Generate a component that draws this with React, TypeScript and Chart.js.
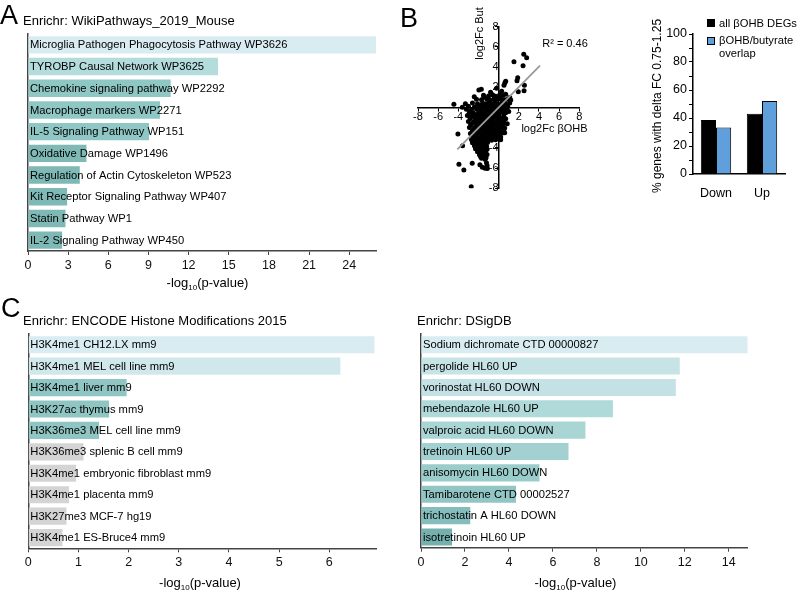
import React, { useEffect, useRef } from "react";
import { Chart, registerables } from "chart.js";

Chart.register(...registerables);

const FONT = "'Liberation Sans', Arial, Helvetica, sans-serif";
Chart.defaults.font.family = FONT;
Chart.defaults.color = "#000";

// ---------- Panel A: Enrichr WikiPathways_2019_Mouse ----------
const wikiLabels = [
  "Microglia Pathogen Phagocytosis Pathway WP3626",
  "TYROBP Causal Network WP3625",
  "Chemokine signaling pathway WP2292",
  "Macrophage markers WP2271",
  "IL-5 Signaling Pathway WP151",
  "Oxidative Damage WP1496",
  "Regulation of Actin Cytoskeleton WP523",
  "Kit Receptor Signaling Pathway WP407",
  "Statin Pathway WP1",
  "IL-2 Signaling Pathway WP450",
];
const wikiValues = [26.0, 14.2, 10.66, 9.86, 9.04, 4.37, 3.87, 2.92, 2.8, 2.55];
const wikiColors = ["#d8ecf1", "#b4dcdc", "#8fc7c4", "#8fc7c4", "#8fc7c4", "#7fb9b6", "#7fb9b6", "#7fb9b6", "#7fb9b6", "#7fb9b6"];
const wikiTicks = [0, 3, 6, 9, 12, 15, 18, 21, 24];
const wikiMax = 26;

// ---------- Panel B: scatter ----------
const scatterPoints: [number, number][] = [
  [2.49, 5.27], [2.78, 4.93], [1.52, 4.53], [2.42, 4.14], [1.89, 2.95], [1.82, 2.65], [2.55, 2.2], [2.52, 1.66], [1.95, 1.56],
  [0.7, 2.6], [0.53, 2.2], [0.62, 2.45], [-1.72, 1.8], [-1.96, 1.73], [-1.46, 1.07], [-2.42, 1.07], [-4.44, 0.32], [-3.6, 0.02],
  [-4.04, -2.62], [-2.9, -0.9], [-2.78, -1.73], [-3.58, -3.78], [-3.94, -5.62], [-3.45, -6.19], [-2.62, -5.53], [-2.72, -7.84],
  [-1.36, -5.13], [-1.86, -5.66], [-1.62, -5.92], [-1.35, -6.02], [-1.15, -5.75], [-1.12, -6.05], [-1.21, -5.48], [-1.79, -4.87], [-1.46, -4.93],
  [1.2, 0.74], [1.0, -0.4], [0.2, -3.2], [0.85, -1.6], [0.6, -2.5], [0.7, 1.3], [1.1, 1.0], [0.3, 1.6], [-0.2, 1.9], [-0.8, 1.5],
  [-1.5, 1.22], [-1.0, 1.15], [-0.6, 1.27], [-0.3, 1.12], [0.1, 1.25], [0.4, 1.18],
  [-2.2, 0.82], [-1.7, 0.76], [-1.2, 0.86], [-0.9, 0.74], [-0.5, 0.83], [-0.2, 0.78], [0.2, 0.85], [0.6, 0.77], [0.9, 0.81],
  [-3.3, 0.38], [-2.6, 0.45], [-2.1, 0.36], [-1.6, 0.43], [-1.3, 0.37], [-1.0, 0.46], [-0.7, 0.39], [-0.4, 0.44], [-0.1, 0.35], [0.3, 0.42], [0.7, 0.38], [1.1, 0.45],
  [-3.0, 0.12], [-2.4, 0.06], [-1.9, 0.14], [-1.5, 0.08], [-1.1, 0.13], [-0.8, 0.05], [-0.5, 0.11], [-0.2, 0.07], [0.2, 0.13], [0.5, 0.04], [0.9, 0.1],
  [-3.2, -0.18], [-2.7, -0.24], [-2.2, -0.16], [-1.8, -0.22], [-1.4, -0.17], [-1.0, -0.25], [-0.6, -0.19], [-0.3, -0.23], [0.1, -0.15], [0.4, -0.21], [0.8, -0.18],
  [-2.9, -0.47], [-2.5, -0.54], [-2.0, -0.49], [-1.6, -0.56], [-1.2, -0.45], [-0.9, -0.52], [-0.5, -0.48], [-0.1, -0.55], [0.3, -0.46], [0.7, -0.53],
  [-3.1, -0.78], [-2.6, -0.84], [-2.2, -0.76], [-1.8, -0.83], [-1.4, -0.79], [-1.1, -0.86], [-0.7, -0.77], [-0.4, -0.82], [0.0, -0.75], [0.5, -0.85],
  [-2.8, -1.08], [-2.3, -1.14], [-1.9, -1.06], [-1.5, -1.12], [-1.2, -1.09], [-0.8, -1.15], [-0.5, -1.05], [-0.1, -1.13], [0.3, -1.07], [0.7, -1.11],
  [-3.0, -1.38], [-2.5, -1.44], [-2.1, -1.36], [-1.7, -1.43], [-1.3, -1.37], [-1.0, -1.45], [-0.6, -1.39], [-0.2, -1.42], [0.2, -1.35], [0.5, -1.44],
  [-2.7, -1.68], [-2.2, -1.74], [-1.8, -1.66], [-1.5, -1.73], [-1.1, -1.69], [-0.7, -1.75], [-0.4, -1.67], [0.0, -1.72], [0.4, -1.7],
  [-2.9, -1.97], [-2.4, -2.04], [-2.0, -1.96], [-1.6, -2.03], [-1.2, -1.98], [-0.9, -2.05], [-0.5, -1.99], [-0.1, -2.02], [0.3, -1.95], [0.6, -2.04],
  [-2.6, -2.28], [-2.2, -2.34], [-1.8, -2.26], [-1.4, -2.33], [-1.0, -2.27], [-0.6, -2.35], [-0.3, -2.29], [0.1, -2.32], [0.5, -2.26],
  [-2.8, -2.58], [-2.3, -2.64], [-1.9, -2.56], [-1.5, -2.63], [-1.1, -2.57], [-0.8, -2.65], [-0.4, -2.59], [0.0, -2.62], [0.3, -2.55],
  [-2.5, -2.88], [-2.1, -2.94], [-1.7, -2.86], [-1.3, -2.93], [-0.9, -2.87], [-0.5, -2.95], [-0.2, -2.89], [0.2, -2.92],
  [-2.7, -3.18], [-2.3, -3.24], [-1.9, -3.16], [-1.5, -3.23], [-1.1, -3.17], [-0.7, -3.25], [-0.3, -3.19],
  [-2.6, -3.48], [-2.2, -3.54], [-1.8, -3.46], [-1.4, -3.53], [-1.1, -3.47],
  [-2.4, -3.78], [-2.0, -3.84], [-1.6, -3.76], [-1.2, -3.83],
  [-2.3, -4.08], [-1.9, -4.14], [-1.5, -4.06], [-1.15, -4.13],
  [-2.1, -4.38], [-1.7, -4.44], [-1.3, -4.36],
  [-1.9, -4.68], [-1.5, -4.74], [-1.15, -4.66],
  [-1.7, -5.02], [-1.25, -4.98],
];
const fitLine: [number, number][] = [[-4.1, -4.15], [4.1, 4.15]];
const scatterTicks = [-8, -6, -4, -2, 0, 2, 4, 6, 8];

// ---------- Panel B: bars ----------
const deltaCategories = ["Down", "Up"];
const allDegValues = [38.6, 43.1];
const overlapValues = [33.3, 52.1];
const deltaSeriesNames = ["all βOHB DEGs", "βOHB/butyrate overlap"];

// ---------- Panel C left: ENCODE ----------
const encodeLabels = [
  "H3K4me1 CH12.LX mm9",
  "H3K4me1 MEL cell line mm9",
  "H3K4me1 liver mm9",
  "H3K27ac thymus mm9",
  "H3K36me3 MEL cell line mm9",
  "H3K36me3 splenic B cell mm9",
  "H3K4me1 embryonic fibroblast mm9",
  "H3K4me1 placenta mm9",
  "H3K27me3 MCF-7 hg19",
  "H3K4me1 ES-Bruce4 mm9",
];
const encodeValues = [6.9, 6.22, 1.96, 1.61, 1.41, 1.1, 0.95, 0.81, 0.76, 0.68];
const encodeColors = ["#d8ecf1", "#d0e8ec", "#8fc6c3", "#8fc6c3", "#8fc6c3", "#d4d4d4", "#d4d4d4", "#d4d4d4", "#d4d4d4", "#d4d4d4"];
const encodeTicks = [0, 1, 2, 3, 4, 5, 6];
const encodeMax = 6.93;

// ---------- Panel C right: DSigDB ----------
const dsigLabels = [
  "Sodium dichromate CTD 00000827",
  "pergolide HL60 UP",
  "vorinostat HL60 DOWN",
  "mebendazole HL60 UP",
  "valproic acid HL60 DOWN",
  "tretinoin HL60 UP",
  "anisomycin HL60 DOWN",
  "Tamibarotene CTD 00002527",
  "trichostatin A HL60 DOWN",
  "isotretinoin HL60 UP",
];
const dsigValues = [14.86, 11.77, 11.59, 8.73, 7.48, 6.71, 5.39, 4.32, 2.24, 1.41];
const dsigColors = ["#d8ecf1", "#c6e3e6", "#c4e2e5", "#b0d9da", "#a9d5d5", "#a3d1d1", "#9bcccc", "#92c6c5", "#85bdbc", "#74b1ae"];
const dsigTicks = [0, 2, 4, 6, 8, 10, 12, 14];
const dsigMax = 14.86;

type Box = { x: number; y: number; w: number; h: number };
type Area = { left: number; right: number; top: number; bottom: number };
type TextItem = { parts: [string, number, number][]; x: number; y: number; rotate?: number; baseline?: CanvasTextBaseline };

function makeTextPlugin(id: string, items: TextItem[], box: Box) {
  return {
    id,
    afterDraw(chart: any) {
      const ctx = chart.ctx as CanvasRenderingContext2D;
      items.forEach((it) => {
        ctx.save();
        ctx.fillStyle = "#000";
        ctx.translate(it.x - box.x, it.y - box.y);
        if (it.rotate) ctx.rotate(it.rotate);
        ctx.textAlign = "left";
        ctx.textBaseline = it.baseline || "alphabetic";
        let total = 0;
        it.parts.forEach((p) => {
          ctx.font = `${p[1]}px ${FONT}`;
          total += ctx.measureText(p[0]).width;
        });
        let x = -total / 2;
        it.parts.forEach((p) => {
          ctx.font = `${p[1]}px ${FONT}`;
          ctx.fillText(p[0], x, p[2]);
          x += ctx.measureText(p[0]).width;
        });
        ctx.restore();
      });
    },
  };
}

function makeBarLabelPlugin(id: string, size: number) {
  return {
    id,
    afterDatasetsDraw(chart: any) {
      const ctx = chart.ctx as CanvasRenderingContext2D;
      const meta = chart.getDatasetMeta(0);
      ctx.save();
      ctx.font = `${size}px ${FONT}`;
      ctx.fillStyle = "#000";
      ctx.textAlign = "left";
      ctx.textBaseline = "middle";
      meta.data.forEach((bar: any, i: number) => {
        ctx.fillText(String(chart.data.labels[i]), chart.chartArea.left + 2, bar.y + 0.5);
      });
      ctx.restore();
    },
  };
}

const logTitle = (x: number, y: number): TextItem => ({
  parts: [["-log", 13, 0], ["10", 8, 3], ["(p-value)", 13, 0]],
  x,
  y,
});

function enrichrConfig(labels: string[], values: number[], colors: string[], max: number, ticks: number[], box: Box, area: Area, titleX: number, titleY: number, key: string) {
  return {
    type: "bar",
    data: {
      labels,
      datasets: [{ data: values, backgroundColor: colors, borderWidth: 0, barPercentage: 0.8, categoryPercentage: 1 }],
    },
    options: {
      indexAxis: "y",
      responsive: false,
      animation: false,
      layout: { padding: { left: area.left - box.x, right: box.x + box.w - area.right, top: area.top - box.y, bottom: 0 } },
      plugins: { legend: { display: false }, tooltip: { enabled: false } },
      scales: {
        x: {
          type: "linear",
          min: 0,
          max,
          afterBuildTicks: (s: any) => {
            s.ticks = ticks.map((v) => ({ value: v }));
          },
          afterFit: (s: any) => {
            s.height = box.y + box.h - area.bottom;
          },
          ticks: { autoSkip: false, maxRotation: 0, font: { size: 12.5 }, color: "#111", padding: 3 },
          grid: { display: true, drawOnChartArea: false, drawTicks: true, tickLength: 4, color: "#444", lineWidth: 1 },
          border: { display: true, color: "#444", width: 1.5 },
        },
        y: {
          type: "category",
          afterFit: (s: any) => {
            s.width = 0;
          },
          ticks: { display: false },
          grid: { display: false },
          border: { display: true, color: "#444", width: 1.5 },
        },
      },
    },
    plugins: [makeBarLabelPlugin("barLabels" + key, 11.2), makeTextPlugin("texts" + key, [logTitle(titleX, titleY)], box)],
  };
}

function scatterConfig(box: Box, area: Area) {
  const tickCfg = {
    afterBuildTicks: (s: any) => {
      s.ticks = scatterTicks.map((v) => ({ value: v }));
    },
  };
  return {
    type: "scatter",
    data: {
      datasets: [
        {
          data: fitLine.map(([x, y]) => ({ x, y })),
          showLine: true,
          borderColor: "#9a9a9a",
          borderWidth: 1.8,
          pointRadius: 0,
          order: 0,
        },
        {
          data: scatterPoints.map(([x, y]) => ({ x, y })),
          backgroundColor: "#000",
          borderWidth: 0,
          pointRadius: 2.5,
          order: 1,
        },
      ],
    },
    options: {
      responsive: false,
      animation: false,
      layout: { padding: { left: area.left - box.x, right: box.x + box.w - area.right, top: area.top - box.y, bottom: box.y + box.h - area.bottom } },
      plugins: { legend: { display: false }, tooltip: { enabled: false } },
      scales: {
        x: {
          type: "linear",
          min: -8,
          max: 8,
          position: { y: 0 },
          ...tickCfg,
          afterFit: (s: any) => {
            s.height = 0;
          },
          ticks: { autoSkip: false, maxRotation: 0, font: { size: 11 }, padding: 0, callback: (v: number) => (v === 0 ? "" : String(v)) },
          grid: { display: true, drawOnChartArea: false, drawTicks: true, tickLength: 3, color: "#000" },
          border: { display: true, color: "#000", width: 1.5 },
        },
        y: {
          type: "linear",
          min: -8,
          max: 8,
          position: { x: 0 },
          ...tickCfg,
          afterFit: (s: any) => {
            s.width = 0;
          },
          ticks: { autoSkip: false, font: { size: 11 }, padding: 3, callback: (v: number) => (v === 0 ? "" : String(v)) },
          grid: { display: true, drawOnChartArea: false, drawTicks: true, tickLength: 3, color: "#000" },
          border: { display: true, color: "#000", width: 1.5 },
        },
      },
    },
    plugins: [
      makeTextPlugin(
        "scatterTexts",
        [
          { parts: [["log2Fc But", 11, 0]], x: 479.5, y: 33.5, rotate: -Math.PI / 2, baseline: "middle" },
          { parts: [["log2Fc βOHB", 11, 0]], x: 554.5, y: 132 },
          { parts: [["R² = 0.46", 11, 0]], x: 565, y: 46.5 },
        ],
        box
      ),
    ],
  };
}

function deltaBarConfig(box: Box, area: Area) {
  const yWidth = 30;
  return {
    type: "bar",
    data: {
      labels: deltaCategories,
      datasets: [
        { label: deltaSeriesNames[0], data: allDegValues, backgroundColor: "#000", borderColor: "#000", borderWidth: 1, barPercentage: 1, categoryPercentage: 0.66 },
        { label: deltaSeriesNames[1], data: overlapValues, backgroundColor: "#5f9fdc", borderColor: "#000", borderWidth: 1, barPercentage: 1, categoryPercentage: 0.66 },
      ],
    },
    options: {
      responsive: false,
      animation: false,
      layout: { padding: { left: area.left - box.x - yWidth, right: box.x + box.w - area.right, top: area.top - box.y, bottom: 0 } },
      plugins: { legend: { display: false }, tooltip: { enabled: false } },
      scales: {
        x: {
          type: "category",
          afterFit: (s: any) => {
            s.height = box.y + box.h - area.bottom;
          },
          ticks: { font: { size: 12.5 }, padding: 4 },
          grid: { display: false },
          border: { display: true, color: "#000", width: 1.5 },
        },
        y: {
          type: "linear",
          min: 0,
          max: 100,
          afterFit: (s: any) => {
            s.width = yWidth;
          },
          ticks: { stepSize: 10, autoSkip: false, font: { size: 12.5 }, padding: 2, callback: (v: number) => (v % 20 === 0 ? String(v) : "") },
          grid: { display: true, drawOnChartArea: false, drawTicks: true, tickLength: 4, color: "#000" },
          border: { display: true, color: "#000", width: 1.5 },
        },
      },
    },
    plugins: [
      makeTextPlugin(
        "deltaTexts",
        [{ parts: [["% genes with delta FC 0.75-1.25", 12, 0]], x: 658, y: 106, rotate: -Math.PI / 2, baseline: "middle" }],
        box
      ),
    ],
  };
}

function ChartCanvas({ box, make }: { box: Box; make: () => any }) {
  const ref = useRef<HTMLCanvasElement | null>(null);
  useEffect(() => {
    if (!ref.current) return;
    const chart = new Chart(ref.current, make());
    return () => chart.destroy();
  }, []);
  return (
    <canvas
      ref={ref}
      width={box.w}
      height={box.h}
      style={{ position: "absolute", left: box.x, top: box.y, width: box.w, height: box.h }}
    />
  );
}

function Txt({ x, base, size, children }: { x: number; base: number; size: number; children: React.ReactNode }) {
  return (
    <div
      style={{
        position: "absolute",
        left: x,
        top: base - 0.8465 * size,
        fontSize: size,
        lineHeight: `${size}px`,
        fontFamily: FONT,
        whiteSpace: "nowrap",
        color: "#000",
      }}
    >
      {children}
    </div>
  );
}

const boxA: Box = { x: 0, y: 28, w: 392, h: 270 };
const areaA: Area = { left: 28, right: 376, top: 34, bottom: 251 };
const boxS: Box = { x: 400, y: 0, w: 200, h: 200 };
const areaS: Area = { left: 418, right: 579.3, top: 26.7, bottom: 188.3 };
const boxD: Box = { x: 600, y: 0, w: 199, h: 205 };
const areaD: Area = { left: 693, right: 785, top: 34, bottom: 174 };
const boxCL: Box = { x: 0, y: 328, w: 395, h: 265 };
const areaCL: Area = { left: 28.3, right: 376, top: 334, bottom: 548.3 };
const boxCR: Box = { x: 400, y: 328, w: 399, h: 265 };
const areaCR: Area = { left: 421, right: 747.7, top: 334, bottom: 547.7 };

export default function App() {
  return (
    <div style={{ position: "absolute", left: 0, top: 0, width: 799, height: 593, background: "#fff", overflow: "hidden" }}>
      <ChartCanvas box={boxA} make={() => enrichrConfig(wikiLabels, wikiValues, wikiColors, wikiMax, wikiTicks, boxA, areaA, 207.5, 287, "A")} />
      <ChartCanvas box={boxS} make={() => scatterConfig(boxS, areaS)} />
      <ChartCanvas box={boxD} make={() => deltaBarConfig(boxD, areaD)} />
      <ChartCanvas box={boxCL} make={() => enrichrConfig(encodeLabels, encodeValues, encodeColors, encodeMax, encodeTicks, boxCL, areaCL, 200, 586.5, "CL")} />
      <ChartCanvas box={boxCR} make={() => enrichrConfig(dsigLabels, dsigValues, dsigColors, dsigMax, dsigTicks, boxCR, areaCR, 575.5, 586.5, "CR")} />

      <Txt x={0} base={25} size={27}>A</Txt>
      <Txt x={23} base={25.5} size={13}>Enrichr: WikiPathways_2019_Mouse</Txt>
      <Txt x={400} base={28} size={27}>B</Txt>
      <Txt x={1} base={318} size={27}>C</Txt>
      <Txt x={23} base={325} size={13}>Enrichr: ENCODE Histone Modifications 2015</Txt>
      <Txt x={417} base={325} size={13}>Enrichr: DSigDB</Txt>

      <div style={{ position: "absolute", left: 707, top: 19, width: 8, height: 8, background: "#000" }} />
      <Txt x={719} base={27} size={11.2}>{deltaSeriesNames[0]}</Txt>
      <div style={{ position: "absolute", left: 707, top: 37, width: 6, height: 6, background: "#5f9fdc", border: "1px solid #000" }} />
      <Txt x={719} base={44.5} size={11.2}>βOHB/butyrate</Txt>
      <Txt x={719} base={57.5} size={11.2}>overlap</Txt>
    </div>
  );
}
